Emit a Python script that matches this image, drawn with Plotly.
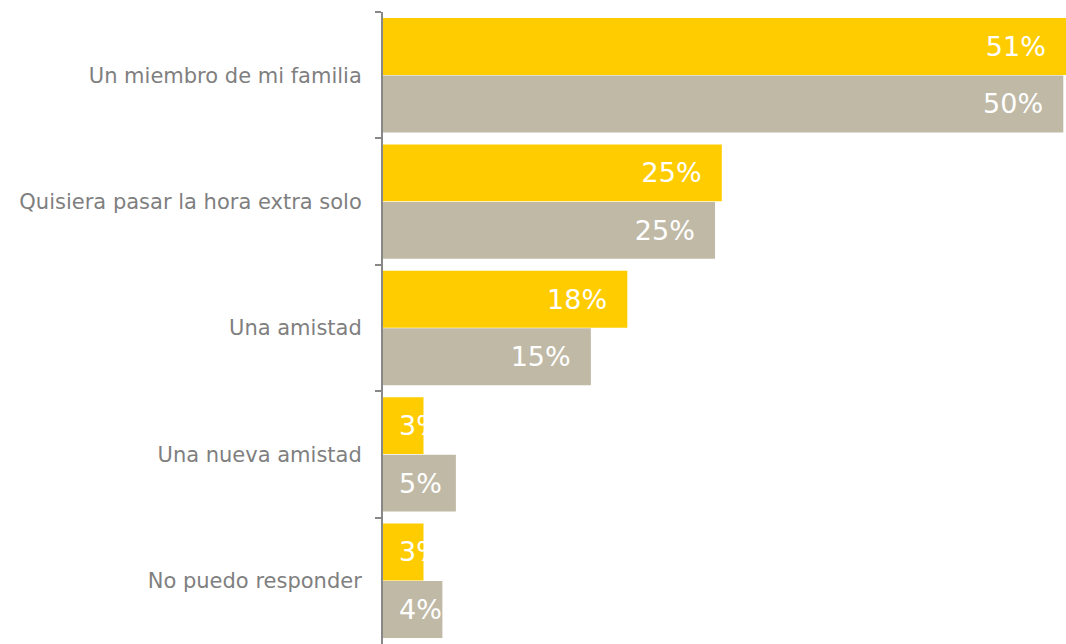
import plotly.graph_objects as go

categories = [
    "Un miembro de mi familia",
    "Quisiera pasar la hora extra solo",
    "Una amistad",
    "Una nueva amistad",
    "No puedo responder",
]
serie_a = [50.6, 25.1, 18.1, 3.0, 3.0]
serie_b = [50.4, 24.6, 15.4, 5.4, 4.4]
labels_a = ["51%", "25%", "18%", "3%", "3%"]
labels_b = ["50%", "25%", "15%", "5%", "4%"]

TXT = dict(color="white", size=27, family="DejaVu Sans")
PAD = "\u2007"  # keeps the label off the bar end

fig = go.Figure()
for i, (vals, labs, col) in enumerate([(serie_a, labels_a, "#FFCC00"), (serie_b, labels_b, "#BFB9A6")]):
    small = [v < 6 for v in vals]
    fig.add_trace(go.Bar(
        y=categories, x=vals, orientation="h",
        marker=dict(color=col, line=dict(width=0)),
        text=[l + PAD for l in labs],
        textposition=["none" if s else "inside" for s in small],
        insidetextanchor="end", textangle=0, textfont=TXT,
        hoverinfo="skip",
    ))
    # short bars: label starts near the axis and runs past the bar end
    for cat, lab, s in zip(categories, labs, small):
        if s:
            fig.add_annotation(
                x=0, y=cat, text=lab, showarrow=False,
                xanchor="left", xshift=14, yshift=29 if i == 0 else -29,
                font=TXT,
            )

fig.update_layout(
    width=1066, height=644,
    margin=dict(l=383, r=0, t=12, b=0),
    barmode="group", bargap=0.09, bargroupgap=0.01,
    showlegend=False,
    plot_bgcolor="white", paper_bgcolor="white",
    font=dict(family="DejaVu Sans", color="#7F7F7F", size=21),
    xaxis=dict(range=[0, 50.6], visible=False, fixedrange=True),
    yaxis=dict(
        autorange="reversed", tickson="boundaries", fixedrange=True,
        ticks="outside", ticklen=6, tickwidth=2, tickcolor="#888888",
        showline=True, linecolor="#888888", linewidth=2,
        showgrid=False, ticklabelstandoff=15,
        tickfont=dict(size=21, color="#7F7F7F"),
    ),
)

fig.write_html(
    "out.html",
    config={"displayModeBar": False},
    post_script="document.body.style.margin='0';document.body.style.overflow='hidden';",
)
